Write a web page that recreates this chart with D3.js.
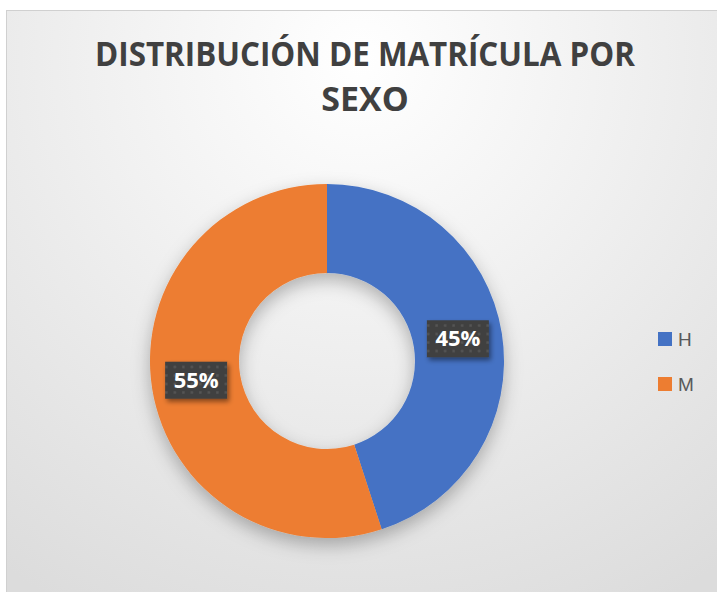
<!DOCTYPE html>
<html><head><meta charset="utf-8">
<script src="https://cdn.jsdelivr.net/npm/d3@7"></script>
<style>html,body{margin:0;padding:0;background:#fff;}svg{display:block;}</style>
</head><body>
<script>
const categories = ["H", "M"];
const values = [45, 55];
const labels = ["45%", "55%"];
const colors = ["#4472C4", "#ED7D31"];
const titleLines = ["DISTRIBUCIÓN DE MATRÍCULA POR", "SEXO"];

const W = 717, H = 592;
const svg = d3.select("body").append("svg").attr("width", W).attr("height", H);
const defs = svg.append("defs");

const bg = defs.append("radialGradient").attr("id", "bg")
  .attr("gradientUnits", "userSpaceOnUse")
  .attr("cx", 360).attr("cy", 60).attr("r", 620);
bg.append("stop").attr("offset", 0).attr("stop-color", "#ffffff");
bg.append("stop").attr("offset", 0.35).attr("stop-color", "#f3f3f3");
bg.append("stop").attr("offset", 1).attr("stop-color", "#dcdcdc");

const sh = defs.append("filter").attr("id", "shadow").attr("x", "-30%").attr("y", "-30%").attr("width", "160%").attr("height", "160%");
sh.append("feDropShadow").attr("dx", 0).attr("dy", 7).attr("stdDeviation", 9)
  .attr("flood-color", "#000").attr("flood-opacity", 0.28);

const lsh = defs.append("filter").attr("id", "lshadow").attr("x", "-30%").attr("y", "-30%").attr("width", "160%").attr("height", "160%");
lsh.append("feDropShadow").attr("dx", 2).attr("dy", 3).attr("stdDeviation", 2.5)
  .attr("flood-color", "#000").attr("flood-opacity", 0.45);

const pat = defs.append("pattern").attr("id", "dots").attr("patternUnits", "userSpaceOnUse")
  .attr("width", 8.5).attr("height", 8.5);
pat.append("rect").attr("width", 8.5).attr("height", 8.5).attr("fill", "#3f3f3f");
pat.append("rect").attr("x", 3).attr("y", 3).attr("width", 2.5).attr("height", 2.5).attr("fill", "#555555");

// panel
svg.append("rect").attr("x", 6.5).attr("y", 10.5).attr("width", W + 10).attr("height", H + 10)
  .attr("fill", "url(#bg)").attr("stroke", "#d0d0d0").attr("stroke-width", 1);

// title
const title = svg.append("g");
titleLines.forEach((t, i) => {
  title.append("text").attr("x", 365).attr("y", 66 + i * 45)
    .attr("text-anchor", "middle")
    .attr("font-family", "'Open Sans', 'Noto Sans', sans-serif")
    .attr("font-weight", "bold").attr("font-size", 31)
    .attr("fill", "#404040").text(t);
});
const first = title.select("text").node();
const wl = first.getComputedTextLength();
const scaleF = 540 / wl;
title.selectAll("text").attr("font-size", 31 * Math.min(1, scaleF) ).each(function(){});
// keep letter height like Calibri: compress horizontally
title.selectAll("text").attr("font-size", 34)
  .attr("transform", function(){ return null; });
title.selectAll("text").each(function(){
  const el = d3.select(this);
  const len = this.getComputedTextLength();
  const sx = (el.text() === titleLines[0] ? 540 : 540 * len / wl) / len;
  const x = +el.attr("x"), y = +el.attr("y");
  el.attr("transform", `translate(${x},${y}) scale(${Math.min(sx, 1)},1) translate(${-x},${-y})`);
});

// donut
const cx = 327, cy = 361, ro = 177, ri = 88;
const pie = d3.pie().sort(null).value(d => d)(values);
const arc = d3.arc().innerRadius(ri).outerRadius(ro);
const g = svg.append("g").attr("transform", `translate(${cx},${cy})`);
g.append("g").attr("filter", "url(#shadow)")
  .selectAll("path").data(pie).join("path")
  .attr("d", arc).attr("fill", (d, i) => colors[i]);

// labels
const lab = g.selectAll("g.lab").data(pie).join("g").attr("class", "lab")
  .attr("transform", d => { const c = arc.centroid(d); return `translate(${c[0]},${c[1] - 2})`; });
lab.append("rect").attr("x", -31).attr("y", -18).attr("width", 62).attr("height", 37)
  .attr("fill", "url(#dots)").attr("filter", "url(#lshadow)");
lab.append("text").attr("text-anchor", "middle").attr("dy", "0.36em")
  .attr("font-family", "'Open Sans', 'Noto Sans', sans-serif").attr("font-weight", "bold")
  .attr("font-size", 22).attr("fill", "#ffffff")
  .text((d, i) => labels[i]);

// legend
const leg = svg.append("g").selectAll("g").data(categories).join("g")
  .attr("transform", (d, i) => `translate(658,${332 + i * 45})`);
leg.append("rect").attr("width", 14).attr("height", 14).attr("fill", (d, i) => colors[i]);
leg.append("text").attr("x", 20).attr("y", 7).attr("dy", "0.36em")
  .attr("font-family", "'Liberation Sans', Arial, sans-serif").attr("font-size", 19)
  .attr("fill", "#595959").text(d => d);
</script>
</body></html>
